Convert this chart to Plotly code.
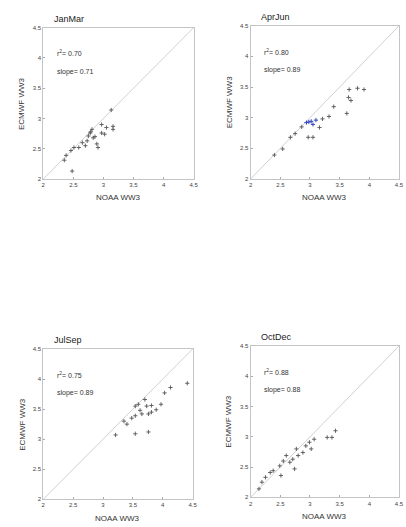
import plotly.graph_objects as go

W, H = 406, 527

# ---- data ----
seasons = ["JanMar", "AprJun", "JulSep", "OctDec"]
r2_values = ["0.70", "0.80", "0.75", "0.88"]
slope_values = ["0.71", "0.89", "0.89", "0.88"]
x_title = "NOAA WW3"
y_title = "ECMWF WW3"
tick_vals = [2, 2.5, 3, 3.5, 4, 4.5]
tick_text = ["2", "2.5", "3", "3.5", "4", "4.5"]

jm_x = [3.13, 2.97, 3.05, 3.16, 3.16, 2.81, 2.78, 2.75, 2.83, 2.73, 2.65, 2.89, 2.91, 2.51, 2.46,
        2.38, 2.35, 2.48, 2.97, 3.02, 2.59, 2.70, 2.86, 2.79]
jm_y = [3.14, 2.90, 2.85, 2.87, 2.82, 2.82, 2.76, 2.71, 2.68, 2.63, 2.60, 2.58, 2.52, 2.52, 2.47,
        2.39, 2.31, 2.13, 2.76, 2.74, 2.52, 2.55, 2.70, 2.78]

aj_x = [3.80, 3.91, 3.66, 3.65, 3.69, 3.40, 3.62, 3.32, 3.21, 3.16, 2.97, 3.05, 2.75, 2.67, 2.54,
        2.40, 2.86]
aj_y = [3.48, 3.46, 3.46, 3.33, 3.28, 3.18, 3.07, 3.02, 2.98, 2.84, 2.68, 2.68, 2.74, 2.68, 2.49,
        2.39, 2.85]
aj_blue_x = [3.10, 3.02, 2.94, 3.05, 2.98]
aj_blue_y = [2.96, 2.94, 2.92, 2.89, 2.93]

js_x = [4.41, 4.13, 4.03, 3.97, 3.89, 3.81, 3.70, 3.73, 3.59, 3.54, 3.65, 3.76, 3.81, 3.54, 3.40,
        3.35, 3.54, 3.76, 3.21, 3.62, 3.48]
js_y = [3.93, 3.86, 3.77, 3.58, 3.49, 3.56, 3.66, 3.55, 3.58, 3.55, 3.42, 3.42, 3.45, 3.39, 3.25,
        3.30, 3.09, 3.12, 3.07, 3.48, 3.35]

od_x = [3.43, 3.37, 3.29, 3.07, 2.99, 2.93, 3.02, 2.77, 2.80, 2.71, 2.66, 2.55, 2.49, 2.74, 2.51,
        2.38, 2.33, 2.25, 2.19, 2.14, 2.60, 2.88]
od_y = [3.10, 2.99, 2.99, 2.96, 2.91, 2.85, 2.80, 2.80, 2.69, 2.63, 2.58, 2.60, 2.52, 2.47, 2.36,
        2.44, 2.41, 2.33, 2.25, 2.14, 2.69, 2.74]

panel_x = [jm_x, aj_x, js_x, od_x]
panel_y = [jm_y, aj_y, js_y, od_y]

# ---- layout (pixel boxes: left, right, top, bottom) ----
boxes = [(42, 195, 25, 178), (253, 404, 23, 178), (42, 194, 350, 502), (253, 404, 347, 500)]

fig = go.Figure()
FONT = "Arial, Liberation Sans, sans-serif"
layout = dict(width=W, height=H, margin=dict(l=0, r=0, t=0, b=0),
              paper_bgcolor="white", plot_bgcolor="white", showlegend=False,
              font=dict(family=FONT, size=7, color="#333"))
annotations = []

for i in range(4):
    n = "" if i == 0 else str(i + 1)
    xa, ya = "x" + n, "y" + n
    l, r, t, b = boxes[i]
    ax_common = dict(range=[2, 4.5], tickvals=tick_vals, ticktext=tick_text,
                     showgrid=False, zeroline=False, showline=True, mirror=True,
                     linecolor="#c4c4c4", linewidth=1, ticks="inside", ticklen=2,
                     tickcolor="#aaa", tickfont=dict(family=FONT, size=6, color="#444"))
    layout["xaxis" + n] = dict(ax_common, domain=[l / W, r / W], anchor=ya)
    layout["yaxis" + n] = dict(ax_common, domain=[1 - b / H, 1 - t / H], anchor=xa)
    # 1:1 line
    fig.add_trace(go.Scatter(x=[2, 4.5], y=[2, 4.5], mode="lines",
                             line=dict(color="#d0d0d0", width=1), xaxis=xa, yaxis=ya, hoverinfo="skip"))
    fig.add_trace(go.Scatter(x=panel_x[i], y=panel_y[i], mode="markers",
                             marker=dict(symbol="cross-thin", size=3, color="#555",
                                         line=dict(width=0.9, color="#555")),
                             xaxis=xa, yaxis=ya))
    if i == 1:
        fig.add_trace(go.Scatter(x=aj_blue_x, y=aj_blue_y, mode="markers",
                                 marker=dict(symbol="cross-thin", size=3, color="#3344bb",
                                             line=dict(width=1, color="#3344bb")),
                                 xaxis=xa, yaxis=ya))
    # axis titles
    annotations.append(dict(text=x_title, xref="paper", yref="paper",
                            x=(l + r) / 2 / W, y=1 - (b + 19) / H, xanchor="center", yanchor="middle",
                            showarrow=False, font=dict(family=FONT, size=8, color="#333")))
    annotations.append(dict(text=y_title, xref="paper", yref="paper", textangle=-90,
                            x=(l - 22) / W, y=1 - (t + b) / 2 / H, xanchor="center", yanchor="middle",
                            showarrow=False, font=dict(family=FONT, size=8, color="#333")))
    # title
    annotations.append(dict(text=seasons[i], xref="paper", yref="paper",
                            x=(l + 9) / W, y=1 - (t - 2) / H, xanchor="left", yanchor="bottom",
                            showarrow=False, font=dict(family=FONT, size=9, color="#222")))
    annotations.append(dict(text="r<sup>2</sup>= " + r2_values[i], xref="paper", yref="paper",
                            x=(l + 12) / W, y=1 - (t + 0.17 * (b - t)) / H, xanchor="left", yanchor="middle",
                            showarrow=False, font=dict(family=FONT, size=7, color="#333")))
    annotations.append(dict(text="slope= " + slope_values[i], xref="paper", yref="paper",
                            x=(l + 12) / W, y=1 - (t + 0.29 * (b - t)) / H, xanchor="left", yanchor="middle",
                            showarrow=False, font=dict(family=FONT, size=7, color="#333")))

layout["annotations"] = annotations
fig.update_layout(**layout)
fig.write_html("out.html")
